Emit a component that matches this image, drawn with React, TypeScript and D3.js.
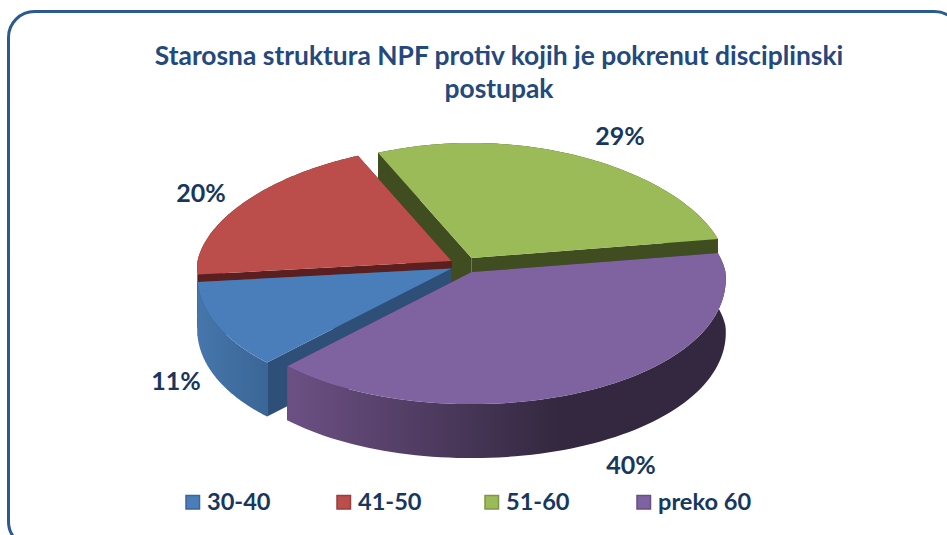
import React from "react";
import * as d3 from "d3";

const categories = ["30-40", "41-50", "51-60", "preko 60"];
const values = [11, 20, 29, 40];
const labels = ["11%", "20%", "29%", "40%"];
const titleLines = ["Starosna struktura NPF protiv kojih je pokrenut disciplinski", "postupak"];

const topColors = ["#4a7ebb", "#bb4e4b", "#9bbb59", "#7f62a0"];
const radialColors = ["#2e5078", "#5a1f1e", "#404d20", "#33283f"];
const wallStops = [
  ["#4676ab", "#3a6596"],
  ["#5a1f1e", "#5a1f1e"],
  ["#6e8540", "#404d20"],
  ["#6c5084", "#33283f"],
];
const legendX = [186, 337, 485, 637];
const labelPos: [number, number][] = [[176, 382], [201, 194], [620, 137], [631, 466]];

const W = 947, H = 535;
const CX = 461.5, CY = 265;
const R = 254, RY_FRONT = 132, RY_BACK = 115, PERSP_BACK = 0.1, PERSP_FRONT = 0.05, DEPTH = 54;
const startDeg = 224.5;

const project = (a: number, r: number, ox: number, oy: number): [number, number] => {
  const X = Math.sin(a) * r, Y = -Math.cos(a) * r;
  const s = 1 + (Y >= 0 ? PERSP_FRONT : PERSP_BACK) * Y;
  return [ox + X * R * s, oy + Y * (Y >= 0 ? RY_FRONT : RY_BACK)];
};

export default function App() {
  const arcs = d3.pie<number>().sort(null).startAngle((startDeg * Math.PI) / 180).endAngle((startDeg * Math.PI) / 180 + 2 * Math.PI)(values);
  const line = d3.line().curve(d3.curveLinear);

  const slices = arcs.map((d, i) => {
    const mid = (d.startAngle + d.endAngle) / 2;
    const ox = CX + 10 * Math.sign(Math.sin(mid));
    const oy = CY - 8 * Math.cos(mid);
    const n = 80;
    const angs = d3.range(n + 1).map((k) => d.startAngle + ((d.endAngle - d.startAngle) * k) / n);
    const rim = angs.map((a) => project(a, 1, ox, oy));
    const down = (p: [number, number]): [number, number] => [p[0], p[1] + DEPTH];
    const apex: [number, number] = [ox, oy];
    const top = line([apex, ...rim])! + "Z";
    const wall = line([...rim, ...rim.map(down).reverse()])! + "Z";
    const w1 = line([apex, rim[0], down(rim[0]), down(apex)])! + "Z";
    const w2 = line([apex, rim[n], down(rim[n]), down(apex)])! + "Z";
    return { i, top, wall, w1, w2, rim };
  });
  const order = [2, 1, 0, 3];

  return (
    <svg width={W} height={H} style={{ position: "absolute", left: 0, top: 0, background: "#fff" }} fontFamily="Lato, 'Open Sans', sans-serif" fontWeight={700}>
      <defs>
        {wallStops.map((s, i) => (
          <linearGradient key={i} id={`w${i}`} gradientUnits="userSpaceOnUse"
            x1={i === 3 ? 288 : 197} x2={i === 3 ? 560 : 270} y1={0} y2={0}>
            <stop offset="0" stopColor={s[0]} />
            <stop offset="1" stopColor={s[1]} />
          </linearGradient>
        ))}
      </defs>
      <rect x={8.5} y={11.5} width={952} height={536} rx={26} fill="#fff" stroke="#2a5a8e" strokeWidth={3} />
      {titleLines.map((t, i) => (
        <text key={i} x={499} y={65 + i * 33} textAnchor="middle" fontSize={26.4} fill="#24497c">{t}</text>
      ))}
      {order.map((idx) => {
        const s = slices[idx];
        return (
          <g key={idx}>
            <path d={s.w1} fill={radialColors[idx]} />
            <path d={s.w2} fill={radialColors[idx]} />
            <path d={s.wall} fill={`url(#w${idx})`} />
            <path d={s.top} fill={topColors[idx]} />
          </g>
        );
      })}
      {labels.map((t, i) => (
        <text key={t} x={labelPos[i][0]} y={labelPos[i][1] + 8} textAnchor="middle" fontSize={25} fill="#17375e">{t}</text>
      ))}
      {categories.map((c, i) => (
        <g key={c}>
          <rect x={legendX[i]} y={495.5} width={13.5} height={13.5} fill={topColors[i]} stroke={d3.color(topColors[i])!.darker(0.6).formatHex()} strokeWidth={1.5} />
          <text x={legendX[i] + 21} y={510} fontSize={23.6} fill="#17375e">{c}</text>
        </g>
      ))}
    </svg>
  );
}
